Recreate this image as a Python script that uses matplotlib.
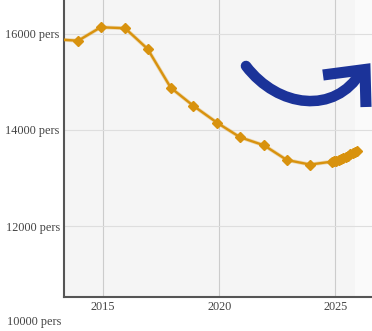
import matplotlib
matplotlib.use("Agg")
import matplotlib.pyplot as plt
from matplotlib.path import Path
from matplotlib.patches import PathPatch

# yearly values (plotted near year end) and the recent monthly run
years = [2012.92, 2013.92, 2014.89, 2015.94, 2016.91, 2017.91, 2018.88,
         2019.91, 2020.89, 2021.93, 2022.91, 2023.91]
yearly = [15890, 15860, 16140, 16120, 15690, 14880, 14505,
          14150, 13850, 13680, 13375, 13280]
months = [2024.84, 2024.94, 2025.04, 2025.14, 2025.24, 2025.34,
          2025.44, 2025.54, 2025.64, 2025.74, 2025.84, 2025.94]
monthly = [13340, 13345, 13350, 13370, 13395, 13410,
           13430, 13460, 13490, 13515, 13540, 13565]

y_ticks = [10000, 12000, 14000, 16000]
x_ticks = [2015, 2020, 2025]

W, H = 372, 331
fig = plt.figure(figsize=(W / 100, H / 100), dpi=100)
ax = fig.add_axes([64 / W, 1 - 297 / H, 1 - 64 / W, 297 / H])
ax.set_facecolor("#f5f5f5")

x = years + months
y = yearly + monthly
line_col = "#d8920e"
ax.plot(x, y, color=line_col, lw=2.8, alpha=0.3, zorder=3, solid_capstyle="round")
ax.plot(x, y, color=line_col, lw=1.7, marker="D", ms=5, zorder=4)
# the monthly run shows as a thick blob
ax.plot(months, monthly, color=line_col, lw=5, alpha=0.8, zorder=4,
        solid_capstyle="round")

ax.set_xlim(2013.31, 2026.58)
ax.set_ylim(10521, 16708)

# faded right edge of plot background
ax.axvspan(2025.85, 2026.58, color="white", alpha=0.6, lw=0, zorder=0)

ax.set_xticks(x_ticks)
ax.set_xticklabels([str(t) for t in x_ticks])
ax.set_yticks(y_ticks[1:])
ax.set_yticklabels([f"{t} pers" for t in y_ticks[1:]])
ax.text(-0.01, y_ticks[0], f"{y_ticks[0]} pers", transform=ax.get_yaxis_transform(),
        ha="right", va="center", fontsize=8.8, family="Liberation Serif",
        color="#444444", clip_on=False)

ax.tick_params(length=0, labelsize=8.8, labelcolor="#444444", pad=3)
for lab in ax.get_xticklabels() + ax.get_yticklabels():
    lab.set_family("Liberation Serif")

ax.grid(axis="x", color="#cccccc", lw=0.8)
ax.grid(axis="y", color="#dedede", lw=0.8)
ax.set_axisbelow(True)

for s in ["top", "right"]:
    ax.spines[s].set_visible(False)
ax.spines["left"].set_color("#555555")
ax.spines["left"].set_linewidth(1.5)
ax.spines["bottom"].set_color("#555555")
ax.spines["bottom"].set_linewidth(1.5)

# blue trend arrow, drawn in figure pixels
def fp(px, py):
    return (px / W, 1 - py / H)

arrow_col = "#1b3399"
curve = Path([fp(246, 66), fp(278, 108), fp(335, 115), fp(361, 72)],
             [Path.MOVETO, Path.CURVE4, Path.CURVE4, Path.CURVE4])
fig.patches.append(PathPatch(curve, transform=fig.transFigure, fill=False,
                             ec=arrow_col, lw=7.6, capstyle="round", zorder=10))
head = Path([fp(323, 75), fp(365, 69.5), fp(366, 107)],
            [Path.MOVETO, Path.LINETO, Path.LINETO])
fig.patches.append(PathPatch(head, transform=fig.transFigure, fill=False,
                             ec=arrow_col, lw=8.0, capstyle="butt",
                             joinstyle="miter", zorder=10))

fig.savefig("out.png", dpi=100)
